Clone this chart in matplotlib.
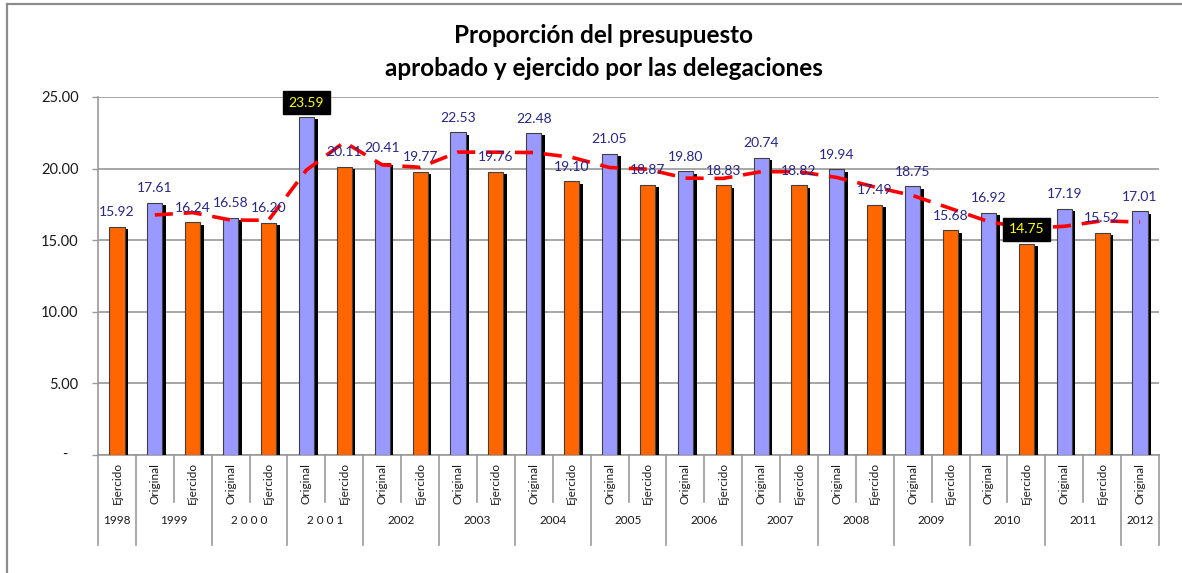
import matplotlib
matplotlib.use("Agg")
import matplotlib.pyplot as plt
import matplotlib.patheffects as pe
from matplotlib.lines import Line2D
import pandas as pd

plt.rcParams['font.family'] = ['Lato', 'DejaVu Sans']

# ---- data ----
anios = ['1998', '1999', '1999', '2 0 0 0', '2 0 0 0', '2 0 0 1', '2 0 0 1',
         '2002', '2002', '2003', '2003', '2004', '2004', '2005', '2005',
         '2006', '2006', '2007', '2007', '2008', '2008', '2009', '2009',
         '2010', '2010', '2011', '2011', '2012']
tipos = ['Ejercido', 'Original', 'Ejercido', 'Original', 'Ejercido', 'Original', 'Ejercido',
         'Original', 'Ejercido', 'Original', 'Ejercido', 'Original', 'Ejercido', 'Original', 'Ejercido',
         'Original', 'Ejercido', 'Original', 'Ejercido', 'Original', 'Ejercido', 'Original', 'Ejercido',
         'Original', 'Ejercido', 'Original', 'Ejercido', 'Original']
valores = [15.92, 17.61, 16.24, 16.58, 16.20, 23.59, 20.11,
           20.41, 19.77, 22.53, 19.76, 22.48, 19.10, 21.05, 18.87,
           19.80, 18.83, 20.74, 18.82, 19.94, 17.49, 18.75, 15.68,
           16.92, 14.75, 17.19, 15.52, 17.01]
destacados = [23.59, 14.75]  # highlighted labels (max / min)
titulo = "Proporción del presupuesto\naprobado y ejercido por las delegaciones"

colores = {'Original': '#9999FF', 'Ejercido': '#FF6600'}

W, H = 1182, 573
fig = plt.figure(figsize=(W / 100, H / 100), dpi=100)
L, R, T, B = 98, 1159, 97, 455
ax = fig.add_axes([L / W, 1 - B / H, (R - L) / W, (B - T) / H])

x = list(range(len(valores)))
shadow = [pe.SimplePatchShadow(offset=(2.6, -1.6), shadow_rgbFace='black', alpha=1.0), pe.Normal()]
bars = ax.bar(x, valores, width=0.4, color=[colores[t] for t in tipos],
              edgecolor='#404040', linewidth=0.8, zorder=3)
for b in bars:
    b.set_path_effects(shadow)

# 2-period moving average trendline
mm = pd.Series(valores).rolling(2).mean()
ax.plot(x[1:], mm.values[1:], color='#FF0000', lw=2.6, ls=(0, (5, 3)), zorder=4,
        solid_capstyle='butt', dash_capstyle='butt')

# data labels
for xi, v in zip(x, valores):
    if v in destacados:
        ax.annotate(f"{v:.2f}", (xi, v), xytext=(0, 10.5), textcoords='offset points',
                    ha='center', va='center', fontsize=10, color='#FFFF00', zorder=6,
                    bbox=dict(boxstyle='square,pad=0.4', fc='black', ec='black'))
    else:
        ax.annotate(f"{v:.2f}", (xi, v), xytext=(0, 10.5), textcoords='offset points',
                    ha='center', va='center', fontsize=10, color='#26268C', zorder=6)

ax.set_xlim(-0.5, len(valores) - 0.5)
ax.set_ylim(0, 25)
ax.set_yticks([0, 5, 10, 15, 20, 25])
ax.set_yticklabels(['', '5.00', '10.00', '15.00', '20.00', '25.00'], fontsize=10.5, color='#1a1a1a')
ax.text(-0.031, 0, '-', transform=ax.transAxes, ha='center', va='center', fontsize=10.5, color='#1a1a1a')
ax.tick_params(axis='y', length=4, color='#999999', width=1, pad=10)
ax.tick_params(axis='x', length=0, labelbottom=False)
ax.grid(axis='y', color='#A6A6A6', lw=1.4, zorder=0)
ax.set_axisbelow(True)
for s in ['top', 'right']:
    ax.spines[s].set_visible(False)
ax.spines['left'].set_color('#999999')
ax.spines['bottom'].set_color('#999999')
ax.spines['left'].set_linewidth(1.2)
ax.spines['bottom'].set_linewidth(1.2)

# multi-level category axis
def fy(py):
    return (B - py) / (B - T)

tr = ax.get_xaxis_transform()
for xi, t in zip(x, tipos):
    ax.text(xi, fy(483), t, rotation=90, ha='center', va='center', fontsize=8.5,
            color='#1a1a1a', transform=tr)
grupos = []
start = 0
for i in range(1, len(anios) + 1):
    if i == len(anios) or anios[i] != anios[start]:
        grupos.append((start, i - 1, anios[start]))
        start = i
bounds_long = set()
for s0, s1, a in grupos:
    bounds_long.add(s0 - 0.5)
    bounds_long.add(s1 + 0.5)
    ax.text((s0 + s1) / 2, fy(520), a, ha='center', va='center', fontsize=8.5,
            color='#1a1a1a', transform=tr)
for bnd in [i - 0.5 for i in range(len(anios) + 1)]:
    yend = fy(545) if bnd in bounds_long else fy(502)
    ax.add_line(Line2D([bnd, bnd], [0, yend], transform=tr, color='#999999', lw=1.2, clip_on=False))

# title
fig.text(604 / W, 1 - 52 / H, titulo, ha='center', va='center',
         fontsize=17.5, fontweight='bold', color='black', linespacing=1.5)

# chart area border (left/top visible)
fig.add_artist(Line2D([7 / W, 7 / W], [0, 1 - 4 / H], transform=fig.transFigure,
                      color='#8C8C8C', lw=1.6))
fig.add_artist(Line2D([7 / W, 1], [1 - 4 / H, 1 - 4 / H], transform=fig.transFigure,
                      color='#8C8C8C', lw=1.6))

fig.savefig('out.png', dpi=100)
